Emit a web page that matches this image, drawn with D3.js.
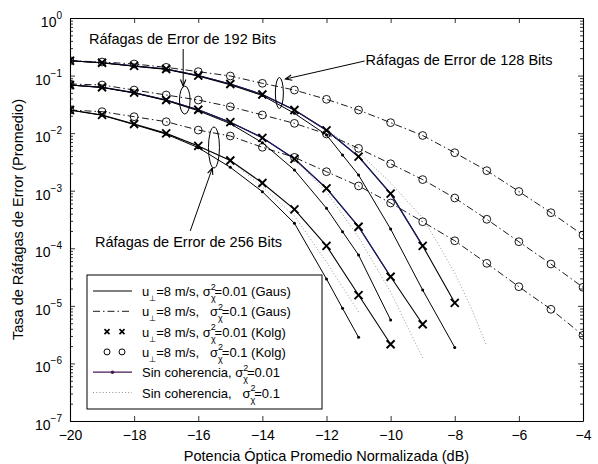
<!DOCTYPE html>
<html>
<head>
<meta charset="utf-8">
<script src="https://cdn.jsdelivr.net/npm/d3@7"></script>
<style>
  body { margin: 0; background: #fff; }
  text { font-family: "Liberation Sans", Arial, Helvetica, sans-serif; white-space: pre; }
</style>
</head>
<body>
<div id="chart"></div>
<script>
// ejes
const xTicks = [-20, -18, -16, -14, -12, -10, -8, -6, -4]
const yDecadas = [0, -1, -2, -3, -4, -5, -6, -7]

// sigma^2 = 0.01: Gaus (linea solida) y Kolg (x) coinciden
const tasa001_128 = [[-20,0.181],[-19,0.167],[-18,0.147],[-17,0.130],[-16,0.100],[-15,0.0714],[-14,0.0469],[-13,0.0252],[-12,0.0112],[-11,0.0039],[-10,8.9e-4],[-9,1.1e-4],[-8,1.13e-5]]
const tasa001_192 = [[-20,0.0686],[-19,0.0626],[-18,0.0504],[-17,0.0376],[-16,0.0255],[-15,0.0155],[-14,0.0083],[-13,0.00358],[-12,0.0011],[-11,2.37e-4],[-10,3.2e-5],[-9,4.8e-6]]
const tasa001_256 = [[-20,0.0252],[-19,0.0207],[-18,0.0144],[-17,0.0099],[-16,0.006],[-15,0.00335],[-14,0.00136],[-13,4.75e-4],[-12,1.1e-4],[-11,1.54e-5],[-10,2.15e-6]]

// sigma^2 = 0.1: Gaus (raya-punto) y Kolg (o) coinciden
const tasa01_128 = [[-20,0.181],[-19,0.172],[-18,0.159],[-17,0.139],[-16,0.117],[-15,0.0983],[-14,0.0734],[-13,0.0561],[-12,0.0387],[-11,0.0252],[-10,0.0152],[-9,0.0091],[-8,0.00457],[-7,0.00223],[-6,9.7e-4],[-5,4.15e-4],[-4,1.7e-4]]
const tasa01_192 = [[-20,0.0714],[-19,0.0686],[-18,0.0561],[-17,0.046],[-16,0.0376],[-15,0.0288],[-14,0.0207],[-13,0.0148],[-12,0.00966],[-11,0.00545],[-10,0.00294],[-9,0.00156],[-8,7.47e-4],[-7,3.19e-4],[-6,1.3e-4],[-5,5.33e-5],[-4,2.1e-5]]
const tasa01_256 = [[-20,0.0252],[-19,0.0236],[-18,0.0193],[-17,0.0158],[-16,0.0113],[-15,0.00892],[-14,0.00568],[-13,0.0038],[-12,0.00214],[-11,0.00121],[-10,6.12e-4],[-9,2.89e-4],[-8,1.35e-4],[-7,5.48e-5],[-6,2.15e-5],[-5,8.71e-6],[-4,3.08e-6]]

// sin coherencia, sigma^2 = 0.01 (linea con puntos)
const sinCoh001_128 = [[-20,0.181],[-19,0.166],[-18,0.145],[-17,0.128],[-16,0.098],[-15,0.069],[-14,0.045],[-13,0.0221],[-12,0.0093],[-11.5,0.00417],[-11,0.00187],[-10,2.16e-4],[-9,1.88e-5],[-8,1.9e-6]]
const sinCoh001_192 = [[-20,0.0686],[-19,0.062],[-18,0.0498],[-17,0.0368],[-16,0.0245],[-15,0.0146],[-14,0.00682],[-13,0.00229],[-12,4.95e-4],[-11.5,1.94e-4],[-11,7.64e-5],[-10,5.68e-6]]
const sinCoh001_256 = [[-20,0.0252],[-19,0.0204],[-18,0.0141],[-17,0.0096],[-16,0.00559],[-15,0.00255],[-14,9.61e-4],[-13,2.72e-4],[-12,2.93e-5],[-11.5,9.07e-6],[-11,2.84e-6]]

// sin coherencia, sigma^2 = 0.1 (punteada)
const sinCoh01_128 = [[-20,0.181],[-19,0.167],[-18,0.147],[-17,0.13],[-16,0.1],[-15,0.0714],[-14,0.0469],[-13,0.0252],[-12,0.0115],[-11,0.0047],[-10,0.00136],[-9,3.36e-4],[-8.5,1.14e-4],[-8,3.72e-5],[-7.5,9.55e-6],[-7,2.0e-6]]
const sinCoh01_192 = [[-20,0.0686],[-19,0.0626],[-18,0.0504],[-17,0.0376],[-16,0.0255],[-15,0.0155],[-14,0.0083],[-13,0.0035],[-12,9.5e-4],[-11,1.57e-4],[-10,1.74e-5],[-9.5,4.65e-6],[-9,1.24e-6]]
const sinCoh01_256 = [[-20,0.0252],[-19,0.0207],[-18,0.0144],[-17,0.0099],[-16,0.006],[-15,0.00335],[-14,0.00116],[-13,3.64e-4],[-12,5.78e-5],[-11.5,2.12e-5],[-11,7.82e-6]]

const grupos = [
  { bits: '128', g001: tasa001_128, g01: tasa01_128, s001: sinCoh001_128, s01: sinCoh01_128, azulHasta: -9 },
  { bits: '192', g001: tasa001_192, g01: tasa01_192, s001: sinCoh001_192, s01: sinCoh01_192, azulHasta: -10 },
  { bits: '256', g001: tasa001_256, g01: tasa01_256, s001: sinCoh001_256, s01: sinCoh01_256, azulHasta: null }
]

// anotaciones en unidades de datos
const anotaciones = [
  { texto: 'Ráfagas de Error de 192 Bits', pos: [-19.41, 0.347], flecha: [[-16.47, 0.289], [-16.47, 0.0659]], elipse: [-16.42, 0.0376, 5.3, 14] },
  { texto: 'Ráfagas de Error de 128 Bits', pos: [-10.78, 0.153], flecha: [[-10.81, 0.179], [-13.28, 0.0871]], elipse: [-13.47, 0.0498, 4, 15.5] },
  { texto: 'Ráfagas de Error de 256 Bits', pos: [-19.22, 1.05e-4], flecha: [[-16.25, 2.0e-4], [-15.56, 0.00248]], elipse: [-15.51, 0.00563, 5.5, 20.5] }
]

const width = 598, height = 464
const margin = { top: 18, right: 15, bottom: 43, left: 70 }
const NAVY = '#1c1c6a'

const svg = d3.select('#chart').append('svg')
  .attr('width', width)
  .attr('height', height)

const x = d3.scaleLinear().domain([-20, -4]).range([margin.left, width - margin.right])
const y = d3.scaleLog().domain([1e-7, 1]).range([height - margin.bottom, margin.top])

const line = d3.line().x(d => x(d[0])).y(d => y(d[1]))

// recorte al area del grafico
svg.append('clipPath').attr('id', 'area')
  .append('rect')
  .attr('x', margin.left).attr('y', margin.top)
  .attr('width', x(-4) - x(-20)).attr('height', y(1e-7) - y(1))

const plot = svg.append('g').attr('clip-path', 'url(#area)')

// lineas
for (const g of grupos) {
  plot.append('path').datum(g.s01)
    .attr('d', line).attr('fill', 'none')
    .attr('stroke', '#777').attr('stroke-width', 0.8).attr('stroke-dasharray', '1,2.2')
  plot.append('path').datum(g.g01)
    .attr('d', line).attr('fill', 'none')
    .attr('stroke', '#000').attr('stroke-width', 0.9).attr('stroke-dasharray', '7,3,1.5,3')
  plot.append('path').datum(g.g001)
    .attr('d', line).attr('fill', 'none')
    .attr('stroke', '#000').attr('stroke-width', 1.1)
  if (g.azulHasta !== null) {
    plot.append('path').datum(g.g001.filter(d => d[0] <= g.azulHasta))
      .attr('d', line).attr('fill', 'none')
      .attr('stroke', NAVY).attr('stroke-width', 1.2)
  }
  plot.append('path').datum(g.s001)
    .attr('d', line).attr('fill', 'none')
    .attr('stroke', '#000').attr('stroke-width', 1)
}

// marcadores
for (const g of grupos) {
  plot.append('g').selectAll('circle.pt').data(g.s001).enter().append('circle')
    .attr('cx', d => x(d[0])).attr('cy', d => y(d[1])).attr('r', 1.5).attr('fill', '#000')
  plot.append('g').selectAll('circle.o').data(g.g01).enter().append('circle')
    .attr('cx', d => x(d[0])).attr('cy', d => y(d[1])).attr('r', 3.9)
    .attr('fill', 'none').attr('stroke', '#000').attr('stroke-width', 0.9)
  plot.append('g').selectAll('path.x').data(g.g001).enter().append('path')
    .attr('transform', d => `translate(${x(d[0])},${y(d[1])})`)
    .attr('d', 'M-4,-4L4,4M-4,4L4,-4')
    .attr('stroke', '#000').attr('stroke-width', 1.9)
}

// ejes con marcas hacia dentro
const fondo = y(1e-7), techo = y(1), izq = x(-20), der = x(-4)

const ejeX = svg.append('g').attr('transform', `translate(0,${fondo})`)
  .call(d3.axisBottom(x).tickValues(xTicks).tickSizeInner(-5).tickSizeOuter(0).tickPadding(9)
    .tickFormat(d => '\u2212' + Math.abs(d)))
svg.append('g').attr('transform', `translate(0,${techo})`)
  .call(d3.axisTop(x).tickValues(xTicks).tickSizeInner(-5).tickSizeOuter(0).tickFormat(''))

const menores = []
for (const e of yDecadas.slice(1)) for (let k = 2; k <= 9; k++) menores.push(k * Math.pow(10, e))
const mayores = yDecadas.map(e => Math.pow(10, e))

svg.append('g').attr('transform', `translate(${izq},0)`)
  .call(d3.axisLeft(y).tickValues(mayores).tickSizeInner(-5).tickSizeOuter(0).tickFormat(''))
svg.append('g').attr('transform', `translate(${izq},0)`)
  .call(d3.axisLeft(y).tickValues(menores).tickSizeInner(-3).tickSizeOuter(0).tickFormat(''))
  .select('.domain').remove()
svg.append('g').attr('transform', `translate(${der},0)`)
  .call(d3.axisRight(y).tickValues(mayores).tickSizeInner(-5).tickSizeOuter(0).tickFormat(''))
svg.append('g').attr('transform', `translate(${der},0)`)
  .call(d3.axisRight(y).tickValues(menores).tickSizeInner(-3).tickSizeOuter(0).tickFormat(''))
  .select('.domain').remove()

svg.selectAll('.domain').attr('stroke', '#000').attr('stroke-width', 1.1)
svg.selectAll('.tick line').attr('stroke', '#000').attr('stroke-width', 0.8)

ejeX.selectAll('text').attr('font-size', 14).attr('fill', '#000')
  .attr('font-family', '"Liberation Sans", Arial, sans-serif')

// etiquetas 10^n
const etiq = svg.append('g')
for (const e of yDecadas) {
  const t = etiq.append('text')
    .attr('x', izq - 8).attr('y', y(Math.pow(10, e)) + 9)
    .attr('text-anchor', 'end').attr('font-size', 14)
  t.append('tspan').text('10')
  t.append('tspan').attr('dy', -8).attr('font-size', 10).text(e === 0 ? '0' : '\u2212' + Math.abs(e))
}

// titulos de ejes
svg.append('text')
  .attr('x', (izq + der) / 2).attr('y', height - 3)
  .attr('text-anchor', 'middle').attr('font-size', 14.5)
  .text('Potencia Óptica Promedio Normalizada (dB)')
svg.append('text')
  .attr('transform', `translate(23,${(techo + fondo) / 2}) rotate(-90)`)
  .attr('text-anchor', 'middle').attr('font-size', 14.5)
  .text('Tasa de Ráfagas de Error (Promedio)')

// anotaciones
for (const a of anotaciones) {
  svg.append('text')
    .attr('x', x(a.pos[0])).attr('y', y(a.pos[1]))
    .attr('font-size', 14.5)
    .text(a.texto)
  const [p0, p1] = a.flecha
  const x0 = x(p0[0]), y0 = y(p0[1]), x1 = x(p1[0]), y1 = y(p1[1])
  svg.append('line').attr('x1', x0).attr('y1', y0).attr('x2', x1).attr('y2', y1)
    .attr('stroke', '#000').attr('stroke-width', 1)
  const ang = Math.atan2(y1 - y0, x1 - x0)
  const L = 7, w = 0.4
  svg.append('path')
    .attr('d', `M${x1 - L * Math.cos(ang - w)},${y1 - L * Math.sin(ang - w)}L${x1},${y1}L${x1 - L * Math.cos(ang + w)},${y1 - L * Math.sin(ang + w)}`)
    .attr('fill', 'none').attr('stroke', '#000').attr('stroke-width', 1.1)
  const el = a.elipse
  svg.append('ellipse')
    .attr('cx', x(el[0])).attr('cy', y(el[1])).attr('rx', el[2]).attr('ry', el[3])
    .attr('fill', 'none').attr('stroke', '#000').attr('stroke-width', 1)
}

// leyenda
const leyenda = [
  { pre: 'u', sub: true, mid: '=8 m/s, ', tail: '=0.01 (Gaus)', tipo: 'solida' },
  { pre: 'u', sub: true, mid: '=8 m/s,   ', tail: '=0.1 (Gaus)', tipo: 'rayapunto' },
  { pre: 'u', sub: true, mid: '=8 m/s, ', tail: '=0.01 (Kolg)', tipo: 'x' },
  { pre: 'u', sub: true, mid: '=8 m/s,   ', tail: '=0.1 (Kolg)', tipo: 'o' },
  { pre: 'Sin coherencia', sub: false, mid: ', ', tail: '=0.01', tipo: 'punto' },
  { pre: 'Sin coherencia', sub: false, mid: ',   ', tail: '=0.1', tipo: 'punteada' }
]
const lx = 87, ly = 275, lw = 235, lh = 134
const gl = svg.append('g')
gl.append('rect').attr('x', lx).attr('y', ly).attr('width', lw).attr('height', lh)
  .attr('fill', '#fff').attr('stroke', '#000').attr('stroke-width', 1)

leyenda.forEach((it, i) => {
  const cy = ly + 16 + i * 20.3
  const a = lx + 6, b = lx + 45
  if (it.tipo === 'solida') {
    gl.append('line').attr('x1', a).attr('x2', b).attr('y1', cy).attr('y2', cy).attr('stroke', '#000').attr('stroke-width', 1)
  } else if (it.tipo === 'rayapunto') {
    gl.append('line').attr('x1', a).attr('x2', b).attr('y1', cy).attr('y2', cy).attr('stroke', '#000').attr('stroke-width', 0.9).attr('stroke-dasharray', '7,3,1.5,3')
  } else if (it.tipo === 'punteada') {
    gl.append('line').attr('x1', a).attr('x2', b).attr('y1', cy).attr('y2', cy).attr('stroke', '#777').attr('stroke-width', 0.8).attr('stroke-dasharray', '1,2.2')
  } else if (it.tipo === 'punto') {
    gl.append('line').attr('x1', a).attr('x2', b).attr('y1', cy).attr('y2', cy).attr('stroke', '#4a1a55').attr('stroke-width', 1.2)
    gl.append('circle').attr('cx', (a + b) / 2).attr('cy', cy).attr('r', 1.8).attr('fill', '#4a1a55')
  } else if (it.tipo === 'x') {
    for (const px of [a + 14, a + 29]) {
      gl.append('path').attr('transform', `translate(${px},${cy})`).attr('d', 'M-2.5,-2.5L2.5,2.5M-2.5,2.5L2.5,-2.5')
        .attr('stroke', '#000').attr('stroke-width', 1.6)
    }
  } else if (it.tipo === 'o') {
    for (const px of [a + 14, a + 29]) {
      gl.append('circle').attr('cx', px).attr('cy', cy).attr('r', 3).attr('fill', 'none').attr('stroke', '#000').attr('stroke-width', 1)
    }
  }
  const t = gl.append('text').attr('x', lx + 55).attr('y', cy + 5).attr('font-size', 13)
  t.append('tspan').text(it.pre)
  if (it.sub) {
    t.append('tspan').attr('dy', 5).attr('font-size', 8).text('\u22a5')
    t.append('tspan').attr('dy', -5).text(it.mid + '\u03c3')
  } else {
    t.append('tspan').text(it.mid + '\u03c3')
  }
  t.append('tspan').attr('dy', -6.5).attr('font-size', 9).text('2')
  t.append('tspan').attr('dx', -5).attr('dy', 11.5).attr('font-size', 9).text('\u03c7')
  t.append('tspan').attr('dx', -1).attr('dy', -5).text(it.tail)
})
</script>
</body>
</html>
